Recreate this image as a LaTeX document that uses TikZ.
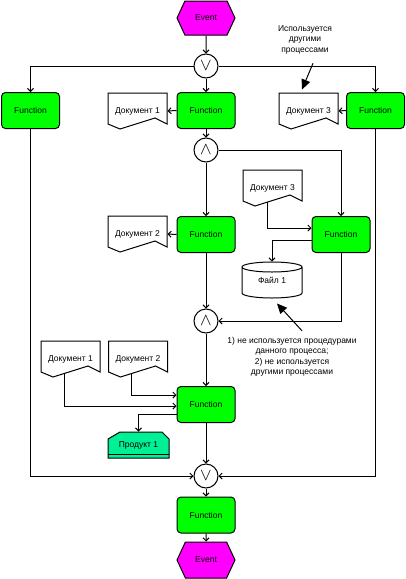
\documentclass[tikz,border=0pt]{standalone}
\usepackage{fontspec}
\setmainfont{Liberation Sans}
\usetikzlibrary{arrows.meta, shapes.symbols}
\definecolor{FuncGreen}{RGB}{0, 255, 0}
\definecolor{EventPink}{RGB}{255, 0, 255}
\definecolor{ProdGreen}{RGB}{0, 240, 150}

% document: box with a wavy lower edge
\newcommand{\docnode}[3]{%
  \begin{scope}[shift={(#2)}]
    \filldraw[fill=white] (-29.5,-18) -- (29.5,-18) -- (29.5,13) -- (17.5,7) -- (-17.5,18) -- (-29.5,13) -- cycle;
  \end{scope}
  \node[box, minimum height=36pt] (#1) at (#2) {#3};}
% file: cylinder
\newcommand{\filenode}[3]{%
  \begin{scope}[shift={(#2)}]
    \filldraw[fill=white] (-30,-13) -- (-30,13) arc[start angle=180, end angle=360, x radius=30pt, y radius=5pt]
      -- (30,-13) arc[start angle=0, end angle=360, x radius=30pt, y radius=5pt];
  \end{scope}
  \node[box, minimum height=36pt] (#1) at (#2) {#3};}
% product
\newcommand{\prodnode}[3]{%
  \begin{scope}[shift={(#2)}]
    \filldraw[fill=ProdGreen] (-30.5,-6) -- (-18.5,-13) -- (23.5,-13) -- (30.5,-6) -- (30.5,13) -- (-30.5,13) -- cycle;
    \draw (-30.5,9) -- (30.5,9);
  \end{scope}
  \node[box, minimum height=26pt] (#1) at (#2) {#3};}

\begin{document}
\begin{tikzpicture}[x=1pt, y=-1pt, line width=1pt,
    font=\fontsize{8.5}{10.5}\selectfont,
    >={Straight Barb[length=3pt, width=6pt]},
    box/.style={inner sep=0pt, minimum width=59pt},
    func/.style={draw, fill=FuncGreen, rounded corners=4pt, inner sep=0pt, minimum width=58pt, minimum height=36pt},
    event/.style={draw, fill=EventPink, signal, signal to=west and east, signal pointer angle=130,
      inner sep=0pt, minimum width=58pt, minimum height=34pt},
    gate/.style={draw, circle, fill=white, inner sep=0pt, minimum size=24pt, font=\fontsize{17}{17}\selectfont},
    note/.style={align=center, inner sep=1pt}]
  \useasboundingbox (0,0) rectangle (405,579);

  % events and functions
  \node[event] (ev1) at (206,18) {Event};
  \node[gate] (x1) at (206,66) {$\vee$};
  \node[func] (fL) at (30.5,110.5) {Function};
  \node[func] (fM) at (206,110.5) {Function};
  \node[func] (fR) at (375.5,110.5) {Function};
  \node[gate] (a1) at (206,150) {$\wedge$};
  \node[func] (f2) at (206,234.5) {Function};
  \node[func] (f3) at (341,234.5) {Function};
  \node[gate] (a2) at (206,321) {$\wedge$};
  \node[func] (f4) at (206,404.5) {Function};
  \node[gate] (x2) at (206,476) {$\vee$};
  \node[func] (f5) at (206,515) {Function};
  \node[event, minimum height=36pt] (ev2) at (206,560) {Event};

  % documents, file, product
  \docnode{dA}{137.5,111}{Документ 1}
  \docnode{dB}{308.5,111}{Документ 3}
  \docnode{dC}{137.5,234}{Документ 2}
  \docnode{dD}{272.5,188}{Документ 3}
  \docnode{dE}{70.5,359}{Документ 1}
  \docnode{dF}{138,359}{Документ 2}
  \filenode{file}{272,280}{Файл 1}
  \prodnode{prod}{138.5,445}{Продукт 1}

  % notes
  \node[note] (n1) at (305,39.5) {Используется\\другими\\процессами};
  \node[note] (n2) at (292,357) {1) не используется процедурами\\данного процесса;\\2) не используется\\другими процессами};

  % control flow
  \draw[->] (ev1) -- (x1);
  \draw[->] (x1) -- (fM);
  \draw[->] (x1.west) -| (fL.north);
  \draw[->] (x1.east) -| (fR.north);
  \draw[->] (fM) -- (a1);
  \draw[->] (a1) -- (f2);
  \draw[->] (a1.east) -| (f3.north);
  \draw[->] (f2) -- (a2);
  \draw[->] (f3.south) |- (a2.east);
  \draw[->] (a2) -- (f4);
  \draw[->] (f4) -- (x2);
  \draw[->] (fL.south) |- (x2.west);
  \draw[->] (fR.south) |- (x2.east);
  \draw[->] (x2) -- (f5);
  \draw[->] (f5) -- (ev2);

  % data flow
  \draw[->] (fM.west) -- (dA.east);
  \draw[->] (fR.west) -- (dB.east);
  \draw[->] (f2.west) -- (dC.east);
  \draw[->] ([xshift=-5.5pt, yshift=-14pt]dD.center) |- ([yshift=6.5pt]f3.west);
  \draw[->] ([yshift=-5.5pt]f3.west) -| (file.north);
  \draw[->] ([xshift=-6.5pt, yshift=-14.5pt]dE.center) |- ([yshift=-1.5pt]f4.west);
  \draw[->] ([xshift=-7pt, yshift=-14.7pt]dF.center) |- ([yshift=9.5pt]f4.west);
  \draw[->] ([yshift=-9.5pt]f4.west) -| (prod.north);

  % note pointers
  \draw[-{Triangle[length=10pt, width=9pt]}] ([xshift=8pt, yshift=-8pt]n1.south) -- ([xshift=-6.5pt, yshift=3pt]dB.north);
  \draw[-{Triangle[length=10pt, width=9pt]}] ([xshift=10pt, yshift=5pt]n2.north) -- ([xshift=5pt, yshift=-5pt]file.south);
\end{tikzpicture}
\end{document}
